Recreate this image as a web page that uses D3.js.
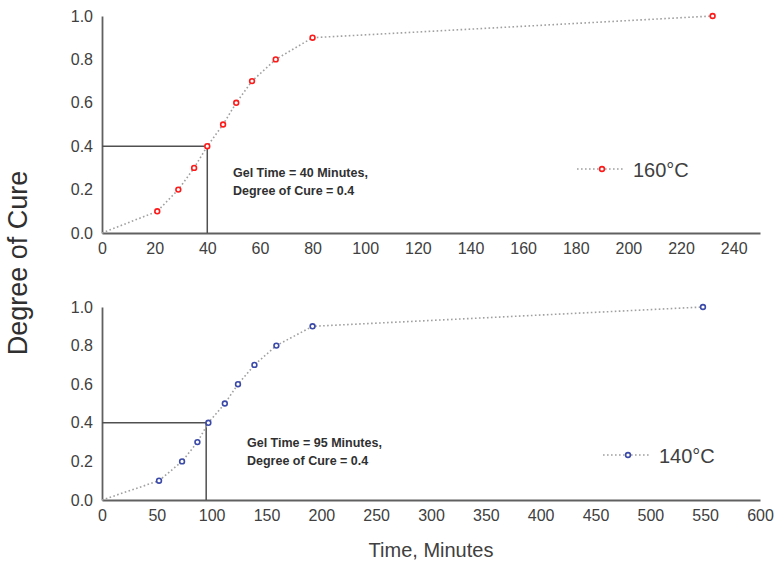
<!DOCTYPE html>
<html>
<head>
<meta charset="utf-8">
<script src="https://cdn.jsdelivr.net/npm/d3@7"></script>
<style>
  html, body { margin: 0; padding: 0; background: #fff; }
  svg text { font-family: "Liberation Sans", Arial, sans-serif; }
</style>
</head>
<body>
<svg id="chart" width="779" height="564"></svg>
<script>
// Cure data at 160 °C
const time160 = [0, 21, 29, 35, 40, 46, 51, 57, 66, 80, 232];
const cure160 = [0, 0.1, 0.2, 0.3, 0.4, 0.5, 0.6, 0.7, 0.8, 0.9, 1.0];
// Cure data at 140 °C
const time140 = [0, 52, 73, 87, 97, 112, 124, 139, 159, 192, 548];
const cure140 = [0, 0.1, 0.2, 0.3, 0.4, 0.5, 0.6, 0.7, 0.8, 0.9, 1.0];

const yTicks = [0, 0.2, 0.4, 0.6, 0.8, 1.0];
const xTicks160 = [0, 20, 40, 60, 80, 100, 120, 140, 160, 180, 200, 220, 240];
const xTicks140 = [0, 50, 100, 150, 200, 250, 300, 350, 400, 450, 500, 550, 600];

const gelTime160 = 40, gelCure160 = 0.4;
const gelTime140 = 95, gelCure140 = 0.4;

const svg = d3.select("#chart");
const textColor = "#404040";
const axisColor = "#606060";

const panels = [
  { times: time160, cures: cure160, xMax: 250, xTicks: xTicks160, top: 16, bottom: 233,
    color: "#ff1a1a", label: "160°C", gelTime: gelTime160, gelCure: gelCure160,
    noteX: 233, noteY: 177, legX: 577, legY: 169 },
  { times: time140, cures: cure140, xMax: 600, xTicks: xTicks140, top: 307, bottom: 500,
    color: "#3b4aa8", label: "140°C", gelTime: gelTime140, gelCure: gelCure140,
    noteX: 247, noteY: 447, legX: 603, legY: 455 }
];

const left = 102, right = 760;

panels.forEach(p => {
  const x = d3.scaleLinear().domain([0, p.xMax]).range([left, right]);
  const y = d3.scaleLinear().domain([0, 1]).range([p.bottom, p.top]);
  const g = svg.append("g");

  // axes
  const xa = g.append("g").attr("transform", `translate(0,${p.bottom})`)
    .call(d3.axisBottom(x).tickValues(p.xTicks).tickSize(0).tickPadding(10).tickFormat(d3.format("d")));
  const ya = g.append("g").attr("transform", `translate(${left},0)`)
    .call(d3.axisLeft(y).tickValues(yTicks).tickSize(0).tickPadding(9).tickFormat(d3.format(".1f")));
  [xa, ya].forEach(a => {
    a.select(".domain").attr("stroke", axisColor).attr("stroke-width", 1.8);
    a.selectAll("text").attr("fill", textColor).style("font-size", "16px");
  });

  // gel-time guide lines
  g.append("path")
    .attr("d", `M${x(0)},${y(p.gelCure)}H${x(p.gelTime)}V${y(0)}`)
    .attr("fill", "none").attr("stroke", "#505050").attr("stroke-width", 1.5);

  // cure curve
  const pts = p.times.map((t, i) => [t, p.cures[i]]);
  const line = d3.line().x(d => x(d[0])).y(d => y(d[1])).curve(d3.curveLinear);
  g.append("path").attr("d", line(pts))
    .attr("fill", "none").attr("stroke", "#a0a0a0").attr("stroke-width", 1.6)
    .attr("stroke-dasharray", "1.6,2.4");

  g.selectAll("circle.pt").data(pts.slice(1)).join("circle")
    .attr("class", "pt")
    .attr("cx", d => x(d[0])).attr("cy", d => y(d[1])).attr("r", 2.4)
    .attr("fill", "#fff").attr("stroke", p.color).attr("stroke-width", 1.6);

  // annotation
  const note = g.append("text").attr("x", p.noteX).attr("y", p.noteY)
    .attr("fill", "#303030").style("font-size", "12.5px").style("font-weight", "bold");
  note.append("tspan").attr("x", p.noteX).text(`Gel Time = ${p.gelTime} Minutes,`);
  note.append("tspan").attr("x", p.noteX).attr("dy", 18).text(`Degree of Cure = ${p.gelCure}`);

  // legend
  const lg = g.append("g").attr("transform", `translate(${p.legX},${p.legY})`);
  lg.append("line").attr("x1", 0).attr("x2", 46).attr("y1", 0).attr("y2", 0)
    .attr("stroke", "#a0a0a0").attr("stroke-width", 1.6).attr("stroke-dasharray", "1.6,2.4");
  lg.append("circle").attr("cx", 25).attr("cy", 0).attr("r", 2.4)
    .attr("fill", "#fff").attr("stroke", p.color).attr("stroke-width", 1.6);
  lg.append("text").attr("x", 56).attr("y", 8).attr("fill", textColor)
    .style("font-size", "20px").text(p.label);
});

// axis titles
svg.append("text").attr("transform", "translate(27,263) rotate(-90)")
  .attr("text-anchor", "middle").attr("fill", "#303030").style("font-size", "27px")
  .text("Degree of Cure");
svg.append("text").attr("x", 431).attr("y", 557).attr("text-anchor", "middle")
  .attr("fill", textColor).style("font-size", "20px").text("Time, Minutes");
</script>
</body>
</html>
